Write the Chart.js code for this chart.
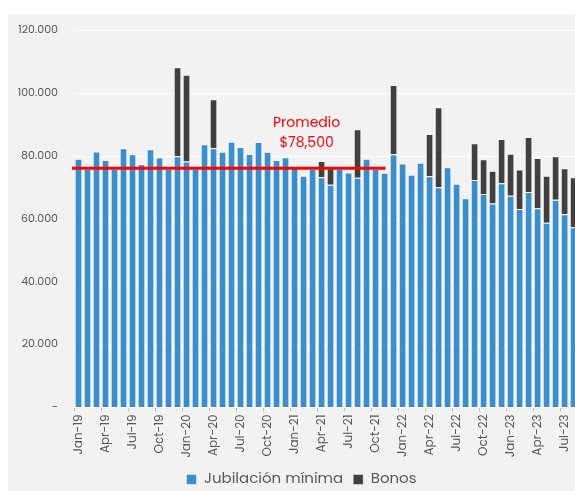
<!DOCTYPE html>
<html lang="es">
<head>
<meta charset="UTF-8">
<title>Jubilación mínima y bonos</title>
<script src="https://cdn.jsdelivr.net/npm/chart.js"></script>
<style>
    html, body { margin: 0; padding: 0; background: #ffffff; overflow: hidden; width: 575px; height: 491px; }
    #panel { position: absolute; left: 8px; top: 14px; width: 570px; height: 480px; background: #f2f2f2; }
    #contenedor { position: absolute; left: 8px; top: 8px; width: 583px; height: 491px; }
</style>
</head>
<body>
<div id="panel"></div>
<div id="contenedor"><canvas id="grafico"></canvas></div>
<script>
    // meses Jan-19 ... Aug-23
    const anios = [19, 20, 21, 22, 23];
    const nombresMes = ['Jan', 'Feb', 'Mar', 'Apr', 'May', 'Jun', 'Jul', 'Aug', 'Sep', 'Oct', 'Nov', 'Dec'];
    const meses = [];
    anios.forEach(a => nombresMes.forEach(m => meses.push(m + '-' + a)));
    meses.length = 56;

    const jubilacion = [
        79200, 76000, 81500, 78800, 76000, 82500, 80600, 77500, 82200, 79600, 76000, 80000,
        78300, 76000, 83800, 82500, 81400, 84600, 82900, 80700, 84500, 81400, 78800, 79700,
        76300, 73800, 76000, 73300, 70900, 76000, 74800, 73100, 79200, 76000, 74700, 80600,
        77700, 74100, 77900, 73600, 70100, 76500, 71200, 66600, 72400, 68000, 64900, 71400,
        67400, 63200, 68600, 63400, 58800, 66100, 61500, 57400
    ];
    const bonos = [
        0, 0, 0, 0, 0, 0, 0, 0, 0, 0, 0, 28350,
        27600, 0, 0, 15600, 0, 0, 0, 0, 0, 0, 0, 0,
        0, 0, 0, 5200, 5300, 0, 0, 15500, 0, 0, 0, 22100,
        0, 0, 0, 13500, 25500, 0, 0, 0, 11700, 11000, 10500, 14100,
        13400, 12600, 17500, 16000, 15000, 13900, 14700, 15900
    ];
    const yTicks = [0, 20000, 40000, 60000, 80000, 100000, 120000];

    const lineaPromedio = 76200;      // altura de la línea roja
    const finPromedio = 34;           // la línea llega hasta Nov-21
    const textoPromedio = ['Promedio', '$78,500'];

    const fuente = '"Poppins", "Open Sans", sans-serif';
    const gris = '#595959';

    const promedioPlugin = {
        id: 'promedio',
        afterLayout(chart) {
            chart.legend.left += 2;
            chart.legend.right += 2;
        },
        afterDatasetsDraw(chart) {
            const { ctx, chartArea, scales: { x, y } } = chart;
            const yPix = y.getPixelForValue(lineaPromedio);
            ctx.save();
            ctx.strokeStyle = '#ff0000';
            ctx.lineWidth = 3;
            ctx.beginPath();
            ctx.moveTo(chartArea.left - 2, yPix);
            ctx.lineTo(x.getPixelForValue(finPromedio) + 1, yPix);
            ctx.stroke();

            ctx.fillStyle = '#ff0000';
            ctx.font = '14px ' + fuente;
            ctx.textAlign = 'center';
            ctx.textBaseline = 'middle';
            const tx = x.getPixelForValue(25) + 3;
            ctx.fillText(textoPromedio[0], tx, yPix - 45);
            ctx.fillText(textoPromedio[1], tx, yPix - 25);
            ctx.restore();
        }
    };

    new Chart(document.getElementById('grafico'), {
        type: 'bar',
        data: {
            labels: meses,
            datasets: [
                {
                    label: 'Jubilación mínima',
                    data: jubilacion,
                    backgroundColor: '#3a8ec9',
                    borderColor: 'rgba(255,255,255,0.45)',
                    borderWidth: 1,
                    categoryPercentage: 1,
                    barPercentage: 0.85
                },
                {
                    label: 'Bonos',
                    data: bonos,
                    backgroundColor: '#404040',
                    borderColor: 'rgba(255,255,255,0.45)',
                    borderWidth: 1,
                    categoryPercentage: 1,
                    barPercentage: 0.85
                }
            ]
        },
        options: {
            responsive: true,
            maintainAspectRatio: false,
            animation: false,
            layout: { padding: { top: 12, left: 0, right: 0, bottom: 2 } },
            scales: {
                x: {
                    stacked: true,
                    afterFit: s => { s.height = 54.6; },
                    border: { display: false },
                    grid: {
                        offset: true,
                        drawOnChartArea: false,
                        drawTicks: true,
                        tickLength: 4,
                        color: c => (c.index % 3 === 0 ? '#bfbfbf' : 'rgba(0,0,0,0)')
                    },
                    ticks: {
                        autoSkip: false,
                        maxRotation: 90,
                        minRotation: 90,
                        padding: 3,
                        color: gris,
                        font: { family: fuente, size: 12 },
                        callback: (v, i) => (i % 3 === 0 ? meses[i] : '')
                    }
                },
                y: {
                    stacked: true,
                    min: 0,
                    max: 120000,
                    afterFit: s => { s.width = 66; },
                    afterBuildTicks: s => { s.ticks = yTicks.map(v => ({ value: v })); },
                    border: { display: false },
                    grid: { color: '#ffffff', lineWidth: 1, drawTicks: false },
                    ticks: {
                        padding: 16,
                        color: gris,
                        font: { family: fuente, size: 11 },
                        callback: v => (v === 0 ? '-' : v.toLocaleString('de-DE'))
                    }
                }
            },
            plugins: {
                tooltip: { enabled: false },
                legend: {
                    position: 'bottom',
                    labels: {
                        boxWidth: 10,
                        boxHeight: 10,
                        padding: 10,
                        color: gris,
                        font: { family: fuente, size: 15 }
                    }
                }
            }
        },
        plugins: [promedioPlugin]
    });
</script>
</body>
</html>
